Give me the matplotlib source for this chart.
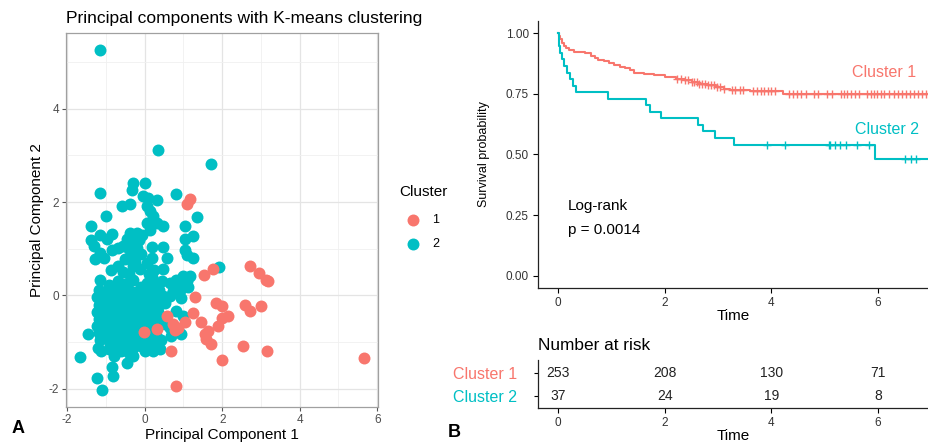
"""PCA scatter with k-means clusters (A) and Kaplan-Meier curves (B)"""
import numpy as np
import matplotlib
matplotlib.use("Agg")
import matplotlib.pyplot as plt
from matplotlib.ticker import MultipleLocator

plt.rcParams["font.family"] = ["Liberation Sans", "DejaVu Sans"]
plt.rcParams["axes.unicode_minus"] = False

RED = "#F8766D"
CYAN = "#00BFC4"

# panel A: principal components, cluster 1 (red)
CLUSTER1_PTS = [
    (1.18, 2.06), (1.10, 1.95), (1.77, 0.57), (1.54, 0.43), (2.72, 0.63),
    (2.95, 0.48), (3.14, 0.33), (3.19, 0.30), (1.30, -0.03), (1.85, -0.17),
    (1.99, -0.23), (2.60, -0.20), (2.71, -0.34), (3.00, -0.23), (1.25, -0.38),
    (1.46, -0.57), (2.00, -0.48), (2.14, -0.44), (1.88, -0.66), (1.63, -0.77),
    (1.59, -0.93), (1.70, -1.05), (2.54, -1.08), (3.15, -1.20), (2.00, -1.38),
    (5.66, -1.35), (-0.02, -0.78), (0.33, -0.73), (0.58, -0.44), (0.74, -0.62),
    (0.87, -0.69), (1.04, -0.58), (0.67, -1.18), (0.82, -1.93), (1.55, -0.83),
    (0.78, -0.75)]

# panel A: principal components, cluster 2 (cyan)
CLUSTER2_PTS = [
    (-1.16, 5.26), (0.35, 3.12), (1.72, 2.81),
    (-1.15, 2.19), (0.80, 2.17), (-0.29, 2.41), (0.02, 2.41), (-0.33, 2.25),
    (-0.05, 2.13), (0.08, 2.08), (-0.59, 1.92), (-0.38, 1.96), (0.31, 2.04),
    (0.05, 1.91), (0.14, 1.80), (-0.99, 1.71), (0.22, 1.69), (1.34, 1.68),
    (0.05, 1.55), (0.31, 1.55), (0.14, 1.41), (-1.39, 1.48), (1.04, 1.48),
    (0.46, 1.48), (-0.38, 1.34), (-0.21, 1.34), (-0.08, 1.30), (-1.15, 1.30),
    (-0.85, 1.32), (-0.98, 1.20), (-1.39, 1.18), (-1.32, 1.05), (1.25, 1.27),
    (1.04, 1.20), (-0.45, 1.20), (-0.30, 1.14), (-0.15, 1.18), (-0.55, 1.05),
    (-0.40, 0.99), (-0.20, 1.02), (-0.85, 0.98), (-0.70, 1.01), (0.18, 1.04),
    (0.48, 1.04), (1.04, 0.98), (1.25, 0.80), (1.09, 0.87), (-1.15, 0.91),
    (-1.28, 0.77), (-1.06, 0.81), (0.18, 0.81), (0.57, 0.81), (-0.35, 0.85),
    (-0.10, 0.88), (-0.50, 0.79), (0.05, 0.70), (-0.25, 0.72), (-0.68, 0.63),
    (-0.29, 0.63), (-0.12, 0.56), (-0.86, 0.55), (-0.55, 0.50), (0.48, 0.56),
    (0.25, 0.55), (-0.40, 0.45), (0.10, 0.45), (0.99, 0.41), (1.16, 0.41),
    (0.84, 0.30), (1.10, 0.30), (1.12, 0.18), (1.92, 0.60), (-1.15, 0.34),
    (-0.93, 0.23), (-0.29, 0.34), (0.05, 0.27), (0.31, 0.23), (0.82, 0.34),
    (0.99, 0.23), (-0.70, 0.30), (-0.50, 0.24), (-0.10, 0.19), (0.20, 0.40),
    (0.45, 0.30), (0.65, 0.26),
    (-1.18, 0.12), (-0.98, 0.08), (-0.79, 0.11), (-0.61, 0.09), (-0.41, 0.12),
    (-0.22, 0.07), (-0.02, 0.10), (0.19, 0.08), (0.38, 0.12), (0.74, 0.10),
    (0.93, 0.13),
    (-1.22, -0.04), (-1.04, -0.06), (-0.86, -0.03), (-0.66, -0.07),
    (-0.47, -0.04), (-0.27, -0.06), (-0.06, -0.03), (0.14, -0.07),
    (0.33, -0.04), (0.46, -0.01), (0.65, -0.01), (0.95, -0.05),
    (-1.19, -0.21), (-0.99, -0.18), (-0.80, -0.22), (-0.59, -0.19),
    (-0.40, -0.21), (-0.21, -0.18), (0.00, -0.22), (0.19, -0.19),
    (0.38, -0.20), (0.52, -0.16),
    (-1.22, -0.36), (-1.03, -0.33), (-0.84, -0.37), (-0.64, -0.34),
    (-0.45, -0.36), (-0.25, -0.33), (-0.05, -0.37), (0.15, -0.34),
    (0.34, -0.36), (0.82, -0.33), (0.99, -0.44),
    (-1.19, -0.51), (-0.99, -0.49), (-0.80, -0.52), (-0.60, -0.48),
    (-0.40, -0.51), (-0.20, -0.49), (0.00, -0.52), (0.20, -0.48), (0.38, -0.50),
    (-1.22, -0.66), (-1.04, -0.63), (-0.85, -0.67), (-0.65, -0.64),
    (-0.45, -0.66), (-0.25, -0.63), (-0.05, -0.67), (0.15, -0.64),
    (0.52, -0.62), (0.65, -0.69),
    (-1.19, -0.81), (-0.99, -0.78), (-0.80, -0.82), (-0.60, -0.79),
    (-0.40, -0.81), (-0.20, -0.78), (0.10, -0.82), (0.28, -0.85),
    (0.69, -0.87), (0.95, -0.83),
    (-1.15, -0.96), (-0.95, -0.93), (-0.75, -0.97), (-0.55, -0.94),
    (-0.35, -0.96), (-0.15, -0.93), (0.05, -0.97), (0.25, -0.94), (0.42, -0.96),
    (-1.20, -1.12), (-0.90, -1.08), (-0.70, -1.11), (-0.50, -1.09),
    (-0.30, -1.12), (-0.10, -1.08), (0.10, -1.11), (0.30, -1.09),
    (-1.13, -1.19), (-0.80, -1.22), (-0.60, -1.20), (-0.40, -1.23),
    (0.00, -1.20), (0.21, -1.19), (0.39, -1.15),
    (-1.47, -0.82), (-1.66, -1.32), (-0.93, -1.15), (-0.80, -1.30),
    (-0.46, -1.44), (-0.85, -1.53), (-0.81, -1.72), (-1.23, -1.77),
    (-1.11, -2.03), (-0.30, -1.30)]

# panel B: Kaplan-Meier step curves
KM1_TIME = [0, 0.02, 0.04, 0.07, 0.10, 0.14, 0.20, 0.30, 0.50, 0.62,
            0.68, 0.75, 0.85, 0.95, 1.05, 1.15, 1.25, 1.35, 1.42, 1.60,
            1.80, 2.00, 2.20, 2.38, 2.50, 2.62, 2.80, 2.95, 3.10, 3.22,
            3.60, 4.22]
KM1_SURV = [1.0, 0.99, 0.975, 0.958, 0.948, 0.94, 0.932, 0.924, 0.918, 0.905,
            0.897, 0.89, 0.884, 0.876, 0.869, 0.862, 0.856, 0.848, 0.838, 0.832,
            0.826, 0.82, 0.813, 0.806, 0.798, 0.791, 0.785, 0.779, 0.772, 0.766,
            0.762, 0.749]
KM1_CENSOR = [2.22, 2.30, 2.38, 2.44, 2.50, 2.55, 2.60, 2.64, 2.70, 2.75,
              2.80, 2.86, 2.92, 2.98, 3.04, 3.10, 3.26, 3.32, 3.40, 3.47,
              3.66, 3.72, 3.80, 3.86, 3.93, 4.00, 4.06, 4.33, 4.40, 4.48,
              4.56, 4.64, 4.80, 4.88, 5.05, 5.14, 5.30, 5.36, 5.42, 5.50,
              5.57, 5.64, 5.80, 5.86, 5.92, 5.98, 6.05, 6.12, 6.20, 6.30,
              6.37, 6.45, 6.52, 6.60, 6.68, 6.75, 6.82, 6.90]
KM2_TIME = [0, 0.01, 0.02, 0.04, 0.07, 0.10, 0.17, 0.22, 0.27, 0.33,
            0.94, 1.65, 1.72, 1.92, 2.62, 2.72, 2.94, 3.30, 5.94]
KM2_SURV = [1.0, 0.973, 0.946, 0.919, 0.892, 0.865, 0.838, 0.811, 0.784, 0.757,
            0.730, 0.703, 0.676, 0.649, 0.622, 0.595, 0.568, 0.541, 0.481]
KM2_CENSOR = [3.92, 4.25, 5.07, 5.10, 5.19, 5.28, 5.40, 5.60, 5.82,
              6.50, 6.61, 6.72]
FOLLOW_UP_END = 7.7

RISK_TIMES = [0, 2, 4, 6]
RISK_C1 = [253, 208, 130, 71]
RISK_C2 = [37, 24, 19, 8]

W, H = 929, 445


def box(left, top, right, bottom):
    """pixel box -> figure fraction rect"""
    return [left / W, 1 - bottom / H, (right - left) / W, (bottom - top) / H]


def fx(px):
    return px / W


def fy(py):
    return 1 - py / H


def surv_at(times, surv, t):
    idx = np.searchsorted(times, t, side="right") - 1
    return np.asarray(surv)[idx]


def plot_pca(fig):
    """panel A"""
    ax = fig.add_axes(box(66, 33, 378, 407))
    c1 = np.array(CLUSTER1_PTS)
    c2 = np.array(CLUSTER2_PTS)
    ax.scatter(c2[:, 0], c2[:, 1], s=74, color=CYAN, linewidths=0,
               zorder=3, label="2")
    ax.scatter(c1[:, 0], c1[:, 1], s=74, color=RED, linewidths=0,
               zorder=3, label="1")
    ax.set_xlim(-2.03, 6.02)
    ax.set_ylim(-2.39, 5.62)
    ax.set_xticks([-2, 0, 2, 4, 6])
    ax.set_yticks([-2, 0, 2, 4])
    ax.xaxis.set_minor_locator(MultipleLocator(1))
    ax.yaxis.set_minor_locator(MultipleLocator(1))
    ax.set_axisbelow(True)
    ax.grid(which="major", color="#e4e4e4", linewidth=0.9)
    ax.grid(which="minor", color="#f0f0f0", linewidth=0.6)
    for sp in ax.spines.values():
        sp.set_color("#a0a0a0")
        sp.set_linewidth(0.9)
    ax.tick_params(which="major", length=2.8, width=0.8, color="#555555",
                   labelsize=8.5, labelcolor="#4d4d4d", pad=2)
    ax.tick_params(which="minor", length=0)
    ax.set_xlabel("Principal Component 1", fontsize=11)
    ax.xaxis.set_label_coords(0.5, -(435 - 407) / 374)
    ax.xaxis.label.set_va("center")
    ax.set_ylabel("Principal Component 2", fontsize=11)
    ax.yaxis.set_label_coords((36.7 - 66) / 312, 0.5)
    ax.yaxis.label.set_va("center")

    handles, labels = ax.get_legend_handles_labels()
    leg = fig.legend(handles[::-1], labels[::-1], title="Cluster",
                     loc="upper left", bbox_to_anchor=(fx(387), fy(172)),
                     frameon=False, fontsize=9, title_fontsize=11,
                     alignment="left", handlelength=2.1, handletextpad=0.5,
                     labelspacing=0.93, borderpad=0.5, markerscale=1.0)
    leg._legend_box.align = "left"
    # extra room between legend title and keys
    leg._legend_box.sep = 11.3

    fig.text(fx(66), fy(22.7), "Principal components with K-means clustering",
             fontsize=12.5, va="baseline", ha="left")
    fig.text(fx(18), fy(433.3), "A", fontsize=13, fontweight="bold",
             ha="center", va="baseline")


def plot_km(fig):
    """panel B curves"""
    ax = fig.add_axes(box(537.7, 21.2, 929, 287.7))
    for times, surv, cens, col in ((KM1_TIME, KM1_SURV, KM1_CENSOR, RED),
                                   (KM2_TIME, KM2_SURV, KM2_CENSOR, CYAN)):
        t = np.append(times, FOLLOW_UP_END)
        s = np.append(surv, surv[-1])
        ax.step(t, s, where="post", color=col, linewidth=1.5)
        ax.plot(cens, surv_at(times, surv, cens), linestyle="none",
                marker="+", markersize=5.5, markeredgewidth=1.0, color=col)
    ax.set_xlim(-0.386, 6.955)
    ax.set_ylim(-0.05, 1.05)
    ax.set_xticks([0, 2, 4, 6])
    ax.set_yticks([0, 0.25, 0.5, 0.75, 1.0])
    ax.set_yticklabels(["0.00", "0.25", "0.50", "0.75", "1.00"])
    ax.spines["top"].set_visible(False)
    ax.spines["right"].set_visible(False)
    for side in ("left", "bottom"):
        ax.spines[side].set_linewidth(0.9)
        ax.spines[side].set_color("#222222")
    ax.tick_params(length=3.5, width=0.8, labelsize=8.5,
                   labelcolor="#333333", pad=3)
    ax.set_xlabel("Time", fontsize=11)
    ax.xaxis.set_label_coords(0.5, -(315.7 - 287.7) / 266.5)
    ax.xaxis.label.set_va("center")
    ax.set_ylabel("Survival probability", fontsize=9)
    ax.yaxis.set_label_coords((484 - 537.7) / 391.3, 0.5)
    ax.yaxis.label.set_va("center")

    fig.text(fx(851.7), fy(77.3), "Cluster 1", color=RED, fontsize=11.5,
             va="baseline")
    fig.text(fx(855), fy(134.3), "Cluster 2", color=CYAN, fontsize=11.5,
             va="baseline")
    fig.text(fx(567.7), fy(210), "Log-rank", fontsize=11, va="baseline")
    fig.text(fx(567.7), fy(234), "p = 0.0014", fontsize=11, va="baseline")


def plot_risk(fig):
    """panel B risk table"""
    ax = fig.add_axes(box(537.7, 360, 929, 408.3))
    for t, n1, n2 in zip(RISK_TIMES, RISK_C1, RISK_C2):
        ax.text(t, 2, str(n1), ha="center", va="center", fontsize=10,
                color="#222222")
        ax.text(t, 1, str(n2), ha="center", va="center", fontsize=10,
                color="#222222")
    ax.set_xlim(-0.386, 6.955)
    ax.set_ylim(0.46, 2.59)
    ax.set_xticks(RISK_TIMES)
    ax.set_yticks([2, 1])
    ax.set_yticklabels(["Cluster 1", "Cluster 2"], fontsize=11.5)
    for lab, col in zip(ax.get_yticklabels(), (RED, CYAN)):
        lab.set_color(col)
    ax.spines["top"].set_visible(False)
    ax.spines["right"].set_visible(False)
    for side in ("left", "bottom"):
        ax.spines[side].set_linewidth(0.9)
        ax.spines[side].set_color("#222222")
    ax.tick_params(axis="x", length=3.5, width=0.8, labelsize=8.5,
                   labelcolor="#333333", pad=3)
    ax.tick_params(axis="y", length=3, width=0.8, pad=12)
    ax.set_xlabel("Time", fontsize=11)
    ax.xaxis.set_label_coords(0.5, -(436 - 408.3) / 48.3)
    ax.xaxis.label.set_va("center")

    fig.text(fx(537.7), fy(350), "Number at risk", fontsize=12.4,
             va="baseline")
    fig.text(fx(454), fy(437.3), "B", fontsize=13, fontweight="bold",
             ha="center", va="baseline")


def execute():
    fig = plt.figure(figsize=(W / 100, H / 100), dpi=100)
    plot_pca(fig)
    plot_km(fig)
    plot_risk(fig)
    fig.savefig("out.png", dpi=100)


execute()
